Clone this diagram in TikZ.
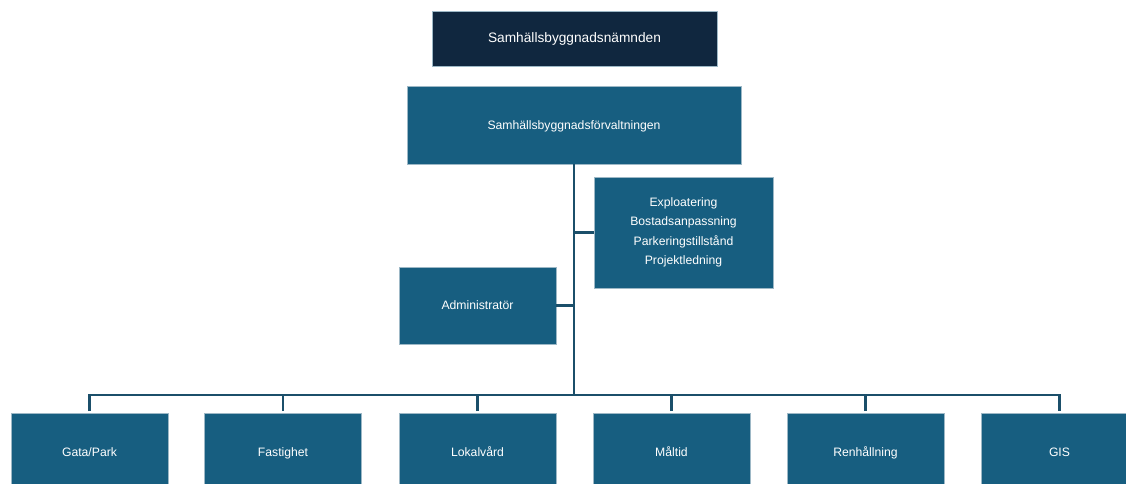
\documentclass[tikz,border=0pt]{standalone}
\usepackage{fontspec}
\setmainfont{Liberation Sans}
\definecolor{navy}{HTML}{10273F}
\definecolor{teal}{HTML}{175E80}
\definecolor{edge}{HTML}{9DB8C6}
\definecolor{conncol}{HTML}{1B4F6A}
\tikzset{
  box/.style={rectangle, fill=teal, draw=edge, line width=0.8pt, inner sep=0pt,
    text=white, align=center, font=\fontsize{12.2}{19.5}\selectfont},
  onebox/.style={box, text height=0.88em, text depth=0.05em},
  topbox/.style={onebox, fill=navy, font=\fontsize{13.7}{16}\selectfont},
  unitbox/.style={onebox, minimum width=157pt, minimum height=78pt},
  conn/.style={draw=conncol, line width=2.5pt, line join=miter}
}
\begin{document}
\begin{tikzpicture}[x=1pt,y=-1pt]
\useasboundingbox (0,0) rectangle (1126,484);
\clip (0,0) rectangle (1126,484);
\fill[white] (0,0) rectangle (1126,484);
\node[topbox, minimum width=285pt, minimum height=55pt] (nmd) at (574.5,38.5) {Samhällsbyggnadsnämnden};
\node[onebox, minimum width=334pt, minimum height=78pt] (svc) at (574,125) {Samhällsbyggnadsförvaltningen};
\node[box, minimum width=179pt, minimum height=111pt] (expl) at (683.5,232.5) {Exploatering\\Bostadsanpassning\\Parkeringstillstånd\\Projektledning};
\node[onebox, minimum width=157pt, minimum height=77pt] (adm) at (477.5,305.5) {Administratör};
\node[unitbox] (gata) at (89.5,452) {Gata/Park};
\node[unitbox] (fast) at (283,452) {Fastighet};
\node[unitbox] (lok) at (477.5,452) {Lokalvård};
\node[unitbox] (malt) at (671.5,452) {Måltid};
\node[unitbox] (ren) at (865.5,452) {Renhållning};
\node[unitbox] (gis) at (1059.5,452) {GIS};
\coordinate (busY) at (0,395);
\draw[conn] ([yshift=1.5pt]gata.north) -- (gata.north |- busY) -- (gis.north |- busY) -- ([yshift=1.5pt]gis.north);
\foreach \n in {fast,lok,malt,ren} {\draw[conn] ([yshift=1.5pt]\n.north) -- (\n.north |- busY);}
\draw[conn] (svc.south) -- (svc.south |- busY);
\draw[conn] (expl.west) -- (expl.west -| svc.south);
\draw[conn] (adm.east) -- (adm.east -| svc.south);
\end{tikzpicture}
\end{document}
